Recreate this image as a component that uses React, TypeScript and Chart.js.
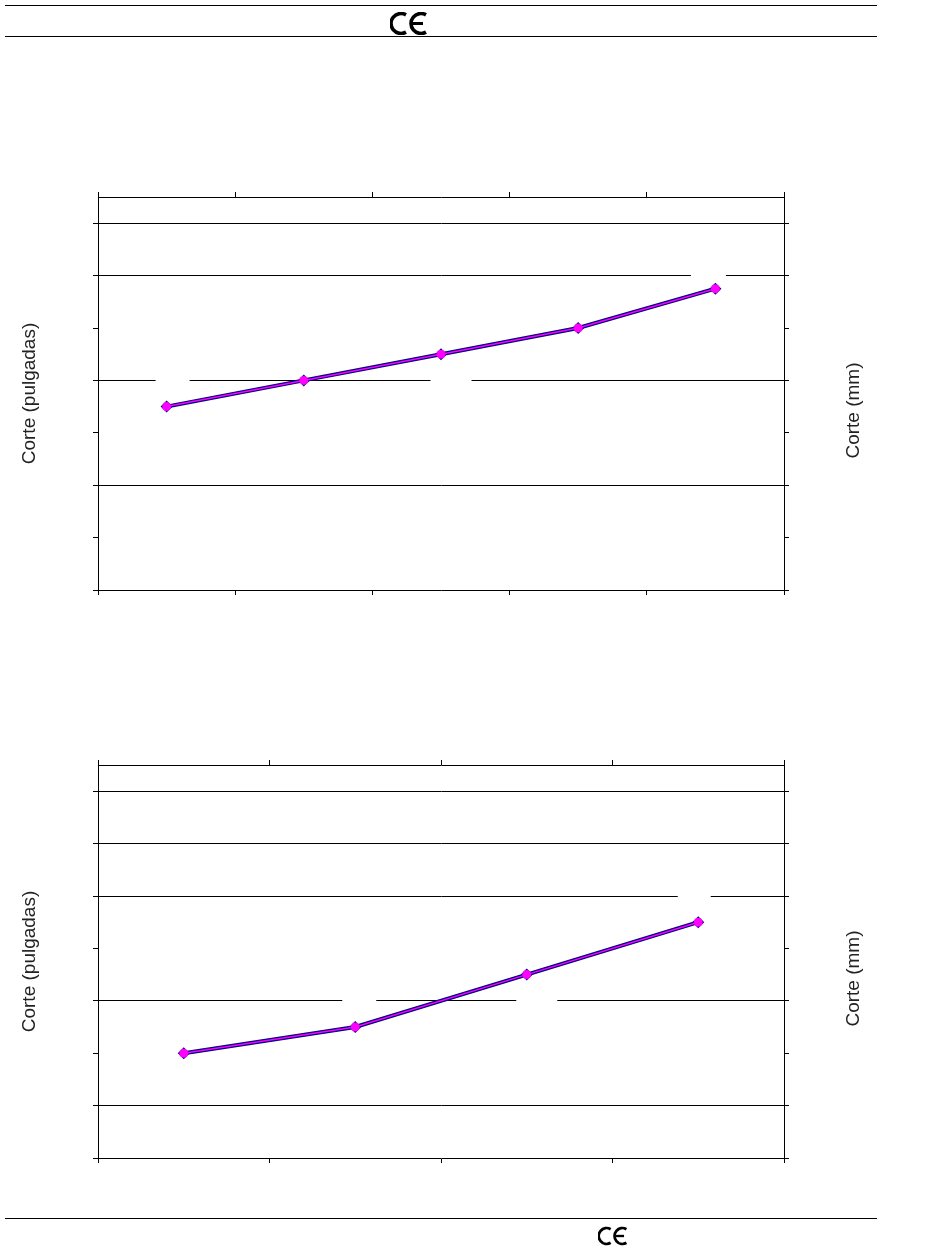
import React, { useEffect, useRef } from 'react';
import { Chart, registerables } from 'chart.js';

Chart.register(...registerables);

// ---- data ----
const CATEGORIES_1 = ['1', '2', '3', '4', '5'];
const CUT_1 = [3.5, 4, 4.5, 5, 5.75];
const CATEGORIES_2 = ['1', '2', '3', '4'];
const CUT_2 = [2, 2.5, 3.5, 4.5];
const Y_TICKS = [0, 1, 2, 3, 4, 5, 6, 7];
const Y_MAX = 7.5;
const GRID_1 = [2, 4, 6, 7];
const GRID_2 = [1, 3, 5, 6, 7];
const Y_TITLE_LEFT = 'Corte (pulgadas)';
const Y_TITLE_RIGHT = 'Corte (mm)';

// empty white label boxes next to some points (index, side: -1 above / 1 below)
const LABELS_1 = [
  { index: 0, side: -1, dx: 6, w: 34 },
  { index: 2, side: 1, dx: 10, w: 41 },
  { index: 4, side: -1, dx: -7, w: 35 },
];
const LABELS_2 = [
  { index: 1, side: -1, dx: 4, w: 34 },
  { index: 2, side: 1, dx: 10, w: 41 },
  { index: 3, side: -1, dx: -4, w: 33 },
];

const FONT = '"Liberation Sans", Arial, Helvetica, sans-serif';
Chart.defaults.font.family = FONT;

type LabelBox = { index: number; side: number; dx: number; w: number };

function makePlugin(labels: LabelBox[]) {
  return {
    id: 'extras',
    beforeDatasetsDraw(chart: any) {
      const meta = chart.getDatasetMeta(0);
      const ctx = chart.ctx;
      ctx.save();
      ctx.fillStyle = '#ffffff';
      labels.forEach((l) => {
        const p = meta.data[l.index];
        if (!p) return;
        const cy = p.y + l.side * 22;
        ctx.fillRect(p.x + l.dx - l.w / 2, cy - 11, l.w, 22);
      });
      ctx.restore();
    },
    afterDraw(chart: any) {
      const { ctx, chartArea } = chart;
      ctx.save();
      ctx.translate(chartArea.right + 70, (chartArea.top + chartArea.bottom) / 2 + 17);
      ctx.rotate(-Math.PI / 2);
      ctx.font = '19px ' + FONT;
      ctx.fillStyle = '#222222';
      ctx.textAlign = 'center';
      ctx.textBaseline = 'middle';
      ctx.fillText(Y_TITLE_RIGHT, 0, 0);
      ctx.restore();
    },
  };
}

type CutChartProps = {
  categories: string[];
  values: number[];
  grid: number[];
  labels: LabelBox[];
  top: number;
  topH: number;
  bottomH: number;
};

const CW = 900;
const CH = 470;

function CutChart({ categories, values, grid, labels, top, topH, bottomH }: CutChartProps) {
  const ref = useRef<HTMLCanvasElement | null>(null);
  useEffect(() => {
    if (!ref.current) return;
    const xAxis = (position: 'top' | 'bottom', h: number) => ({
      type: 'category' as const,
      position,
      offset: true,
      grid: { offset: true, drawOnChartArea: false, color: '#000', tickLength: 5, lineWidth: 1 },
      border: { color: '#000', width: 1 },
      ticks: { display: false },
      afterFit: (s: any) => {
        s.height = h;
      },
    });
    const chart = new Chart(ref.current, {
      type: 'line',
      data: {
        labels: categories,
        datasets: [
          {
            data: values,
            borderColor: '#ff00ff',
            borderWidth: 1.5,
            pointStyle: 'circle',
            pointRadius: 4.5,
            pointBackgroundColor: '#ff00ff',
            pointBorderWidth: 0,
            tension: 0,
            xAxisID: 'x',
            yAxisID: 'y',
          },
          {
            data: values,
            borderColor: '#000080',
            borderWidth: 4,
            pointStyle: 'rectRot',
            pointRadius: 6,
            pointBackgroundColor: '#000080',
            pointBorderWidth: 0,
            tension: 0,
            xAxisID: 'x',
            yAxisID: 'y',
          },
        ],
      },
      options: {
        animation: false,
        responsive: false,
        layout: { padding: 0 },
        plugins: { legend: { display: false }, tooltip: { enabled: false } },
        events: [],
        scales: {
          x: xAxis('bottom', bottomH),
          x2: xAxis('top', topH),
          y: {
            type: 'linear',
            position: 'left',
            min: 0,
            max: Y_MAX,
            afterBuildTicks: (s: any) => {
              s.ticks = Y_TICKS.map((v) => ({ value: v }));
            },
            grid: {
              color: (c: any) => (c.tick && grid.includes(c.tick.value) ? '#000' : 'rgba(0,0,0,0)'),
              tickColor: '#000',
              tickLength: 5,
              lineWidth: 1,
            },
            border: { color: '#000', width: 1 },
            ticks: { display: false },
            title: {
              display: true,
              text: Y_TITLE_LEFT,
              font: { size: 19, family: FONT },
              color: '#222222',
              padding: { top: 18, bottom: 0 },
            },
            afterFit: (s: any) => {
              s.width = 98;
            },
          },
          y2: {
            type: 'linear',
            position: 'right',
            min: 0,
            max: Y_MAX,
            afterBuildTicks: (s: any) => {
              s.ticks = Y_TICKS.map((v) => ({ value: v }));
            },
            grid: { drawOnChartArea: false, color: '#000', tickLength: 5, lineWidth: 1 },
            border: { color: '#000', width: 1 },
            ticks: { display: false },
            afterFit: (s: any) => {
              s.width = CW - 784;
            },
          },
        },
      } as any,
      plugins: [makePlugin(labels)],
    });
    return () => chart.destroy();
  }, [categories, values, grid, labels, topH, bottomH]);
  return (
    <canvas
      ref={ref}
      width={CW}
      height={CH}
      style={{ position: 'absolute', left: 0, top, width: CW, height: CH }}
    />
  );
}

function CEMark({ left, top, width, height }: { left: number; top: number; width: number; height: number }) {
  return (
    <svg
      viewBox="0 0 38 22"
      width={width}
      height={height}
      style={{ position: 'absolute', left, top }}
    >
      <g fill="none" stroke="#000" strokeWidth={3.6}>
        <path d="M16 2.34 A10 10 0 1 0 16 19.66" />
        <path d="M36 2.34 A10 10 0 1 0 36 19.66" />
        <path d="M22 11 L33 11" strokeWidth={3} />
      </g>
    </svg>
  );
}

const line = (top: number): React.CSSProperties => ({
  position: 'absolute',
  left: 5,
  top,
  width: 872,
  height: 0,
  borderTop: '1.5px solid #000',
});

export default function App() {
  return (
    <div
      style={{
        position: 'absolute',
        left: 0,
        top: 0,
        width: 950,
        height: 1260,
        background: '#fff',
        overflow: 'hidden',
        fontFamily: FONT,
      }}
    >
      <div style={line(5)} />
      <CEMark left={390} top={12} width={38} height={23} />
      <div style={line(36)} />
      <CutChart
        categories={CATEGORIES_1}
        values={CUT_1}
        grid={GRID_1}
        labels={LABELS_1}
        top={150}
        topH={47}
        bottomH={30}
      />
      <CutChart
        categories={CATEGORIES_2}
        values={CUT_2}
        grid={GRID_2}
        labels={LABELS_2}
        top={720}
        topH={45}
        bottomH={32}
      />
      <div style={line(1218)} />
      <CEMark left={598} top={1226} width={30} height={20} />
    </div>
  );
}
